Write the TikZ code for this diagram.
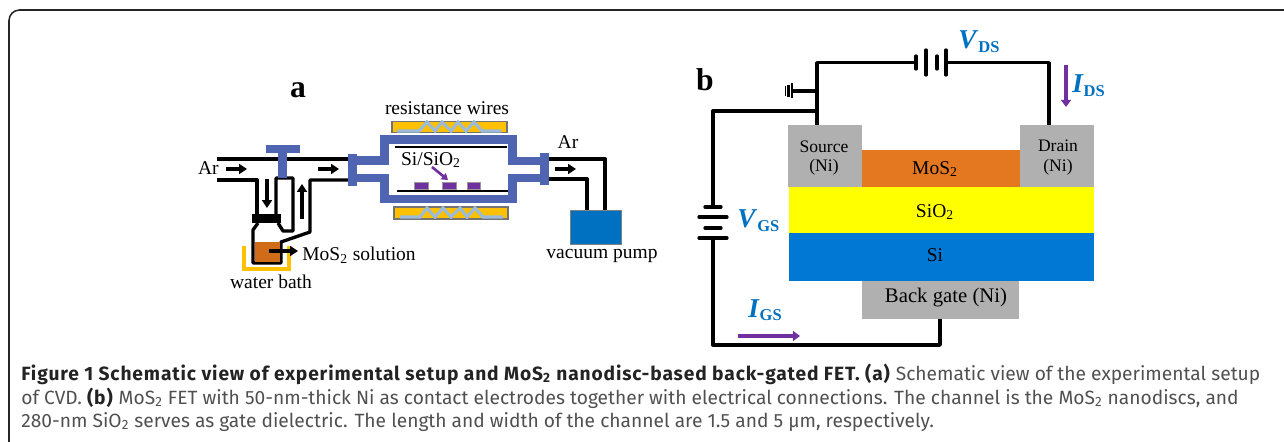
\documentclass[tikz,border=0pt]{standalone}
\usepackage{fontspec}
\usepackage{tikz}
\usetikzlibrary{arrows.meta}
\setmainfont{Liberation Serif}
\newfontfamily\capfont{Fira Sans}
\definecolor{tubeblue}{RGB}{79,101,178}
\definecolor{heatyellow}{RGB}{255,192,0}
\definecolor{wireblue}{RGB}{155,187,216}
\definecolor{nanopurple}{RGB}{112,48,160}
\definecolor{pumpblue}{RGB}{0,112,192}
\definecolor{labelblue}{RGB}{0,112,192}
\definecolor{layerblue}{RGB}{0,120,212}
\definecolor{oxideyellow}{RGB}{255,255,0}
\definecolor{mosorange}{RGB}{228,120,32}
\definecolor{bottleorange}{RGB}{208,108,24}
\definecolor{nigray}{RGB}{176,176,176}
\definecolor{capgray}{RGB}{80,80,80}
\definecolor{capdark}{RGB}{35,35,35}
\tikzset{
  pipe/.style={black, line width=1.9pt, line join=round},
  tube/.style={draw=tubeblue, line width=4.6pt, line join=miter},
  flowarrow/.style={black, line width=2pt, -{Triangle[length=4.5pt,width=5.6pt]}},
  currentarrow/.style={nanopurple, line width=2.1pt, -{Triangle[length=4pt,width=5.6pt]}},
  heater/.style={fill=heatyellow, draw=black!55, line width=0.6pt, inner sep=0pt},
  coil/.style={wireblue, line width=1.8pt},
  disc/.style={fill=nanopurple, draw=black!40, line width=0.3pt, inner sep=0pt, minimum height=0.14cm},
  layer/.style={draw=none, inner sep=0pt},
  lab/.style={inner sep=0pt, font=\fontsize{11.1}{12}\selectfont},
  smalllab/.style={inner sep=0pt, font=\fontsize{10}{11}\selectfont},
  panel/.style={inner sep=0pt, font=\fontsize{18}{19}\selectfont\bfseries},
  qty/.style={inner sep=0pt, anchor=base west, text=labelblue, font=\fontsize{15.5}{16}\selectfont\bfseries},
  capline/.style={inner sep=0pt, anchor=base west, text=capgray, font=\capfont\fontsize{10.92}{11}\selectfont},
}
\newcommand{\qtysub}[1]{\raisebox{-2.2pt}{\fontsize{9.4}{10}\selectfont #1}}
\newcommand{\capbold}[1]{\textcolor{capdark}{\addfontfeature{LetterSpace=4.5}\textbf{#1}}}
\begin{document}
\begin{tikzpicture}[x=0.02cm,y=-0.02cm]
\useasboundingbox (0,0) rectangle (1284,442);
% frame
\draw[black!85, line width=0.9pt, rounded corners=6pt] (9,442) -- (9,10) -- (1284,10);
% part a
\node[panel] (labela) at (298,90) {a};
\draw[pipe] (217,159) -- (348,159);
\draw[pipe] (217,180) -- (257,180) -- (257,214);
\draw[pipe] (276,214) -- (276,178) -- (293,178) -- (293,231) -- (283,231) -- (278,223);
\draw[pipe] (348,180) -- (310,180) -- (310,232) -- (281,242) -- (281,263) -- (253,263) -- (253,230) -- (258,223);
\fill[black] (252,214) rectangle (281,223);
\fill[bottleorange] (254.5,242) rectangle (279.5,262);
\draw[heatyellow, line width=1.8pt] (244,246) -- (244,269) -- (289,269) -- (289,246);
\fill[tubeblue] (266,145) rectangle (300,153);
\fill[tubeblue] (278,153) rectangle (287,178);
\draw[flowarrow] (226,169) -- (247,169);
\draw[flowarrow] (318,169) -- (339,169);
\draw[flowarrow] (267,179) -- (267,208);
\draw[flowarrow] (302,219) -- (302,184);
\draw[flowarrow] (269,251) -- (298,251);
\node[lab, anchor=east] (arleft) at (219,168) {Ar};
\node[lab, anchor=west] (mos) at (302,255) {MoS\textsubscript{2} solution};
\node[lab] (bath) at (271,282) {water bath};
% furnace
\node[heater, minimum width=2.3cm, minimum height=0.23cm] (topheat) at (449.5,127) {};
\node[heater, minimum width=2.28cm, minimum height=0.24cm] (botheat) at (451,213) {};
\draw[coil] (397,131) -- (419,131) -- (427,122) -- (435,131) -- (442,122) -- (451,131) -- (458,122) -- (466,131) -- (474,122) -- (482,131) -- (501,131);
\draw[coil] (400,217) -- (420,217) -- (427,208) -- (435,217) -- (443,208) -- (451,217) -- (460,208) -- (467,217) -- (475,208) -- (483,217) -- (503,217);
\fill[tubeblue] (348,154) rectangle (357,186);
\fill[tubeblue] (540,153) rectangle (549,185);
\draw[tube] (355,160.5) -- (384.5,160.5) -- (384.5,139.5) -- (512.5,139.5) -- (512.5,161) -- (542,161);
\draw[tube] (355,178) -- (384.5,178) -- (384.5,199) -- (512.5,199) -- (512.5,178) -- (542,178);
\draw[black, line width=1.7pt] (395,147) -- (507,147);
\draw[black, line width=1.7pt] (397,191) -- (508,191);
\node[disc, minimum width=0.28cm] (disca) at (421,186) {};
\node[disc, minimum width=0.28cm] (discb) at (449,186) {};
\node[disc, minimum width=0.26cm] (discc) at (473.5,186) {};
\draw[nanopurple, line width=1.5pt, -{Triangle[length=3.5pt,width=4.5pt]}] (432,167) -- (448,180);
\node[lab] (wires) at (447,108) {resistance wires};
\node[lab] (sisio) at (431,160) {Si/SiO\textsubscript{2}};
% outlet
\node[fill=pumpblue, draw=black!50, line width=0.4pt, minimum width=1.02cm, minimum height=0.68cm, inner sep=0pt, anchor=north west] (pump) at (570,210) {};
\coordinate (pumpa) at (587,210);
\coordinate (pumpb) at (605,210);
\draw[pipe] (549,159) -| (pumpb);
\draw[pipe] (549,179) -| (pumpa);
\draw[flowarrow] (555,169) -- (576,169);
\node[lab] (arright) at (568,142) {Ar};
\node[lab] (pumplabel) at (602,256) {vacuum pump};
% part b
\node[panel] (labelb) at (705,80) {b};
\node[layer, fill=oxideyellow, minimum width=6.1cm, minimum height=0.92cm, anchor=north west] (oxide) at (789,187) {};
\node[layer, fill=layerblue, minimum width=6.1cm, minimum height=0.96cm, anchor=north west] (silicon) at (789,233) {};
\node[layer, fill=mosorange, minimum width=3.16cm, minimum height=0.74cm, anchor=north west] (channel) at (862,150) {};
\node[layer, fill=nigray, minimum width=1.48cm, minimum height=1.24cm, anchor=north west] (source) at (788,125) {};
\node[layer, fill=nigray, minimum width=1.48cm, minimum height=1.24cm, anchor=north west] (drain) at (1020,125) {};
\node[layer, fill=nigray, minimum width=3.14cm, minimum height=0.76cm, anchor=north west] (gate) at (862,281) {};
\node[smalllab] (sourcea) at (824,147) {Source};
\node[smalllab] (sourceb) at (824,167) {(Ni)};
\node[smalllab] (draina) at (1058,146) {Drain};
\node[smalllab] (drainb) at (1058,167) {(Ni)};
\node[lab] (moslabel) at (935,169) {MoS\textsubscript{2}};
\node[lab] (oxidelabel) at (935,212) {SiO\textsubscript{2}};
\node[lab] (silabel) at (935,255) {Si};
\node[lab, font=\fontsize{11.8}{12}\selectfont] (gatelabel) at (946,298) {Back gate (Ni)};
% circuit
\coordinate (srcpin) at (817,125);
\coordinate (drnpin) at (1049,125);
\coordinate (gatepin) at (940,319);
\coordinate (vdsleft) at (916,62.7);
\coordinate (vdsright) at (946,62.7);
\coordinate (gndjoin) at (817,91);
\coordinate (gndend) at (792,91);
\coordinate (gsjoin) at (817,111);
\coordinate (vgstop) at (713,207);
\coordinate (vgsbot) at (713,238);
\draw[pipe] (srcpin) |- (vdsleft);
\draw[pipe] (vdsright) -| (drnpin);
\draw[pipe, line cap=round] (916,56) -- (916,69);
\draw[pipe, line cap=round] (926,50) -- (926,75);
\draw[pipe, line cap=round] (937,56) -- (937,69);
\draw[pipe, line cap=round] (946,50) -- (946,75);
\draw[pipe] (gndjoin) -- (gndend);
\draw[black, line width=1.4pt] (792,83) -- (792,98);
\draw[black, line width=1.2pt] (788.5,85) -- (788.5,97);
\draw[black, line width=1pt] (785.5,86) -- (785.5,96);
\draw[pipe] (gsjoin) -| (vgstop);
\draw[pipe, line cap=round] (705,207) -- (721,207);
\draw[pipe, line cap=round] (699,217) -- (727,217);
\draw[pipe, line cap=round] (705,228) -- (721,228);
\draw[pipe, line cap=round] (699,238) -- (727,238);
\draw[pipe] (vgsbot) |- (940,345) -- (gatepin);
\draw[currentarrow] (1066,65) -- (1066,107);
\draw[currentarrow] (738,336) -- (800,336);
\node[qty] (vds) at (958,49) {\textit{V}\qtysub{DS}};
\node[qty] (ids) at (1072,93) {\textit{I}\qtysub{DS}};
\node[qty] (vgs) at (737,228) {\textit{V}\qtysub{GS}};
\node[qty] (igs) at (748,317) {\textit{I}\qtysub{GS}};
% caption
\node[capline] (capa) at (21,380) {\capbold{Figure 1 Schematic view of experimental setup and MoS\textsubscript{2} nanodisc-based back-gated FET. (a)} Schematic view of the experimental setup};
\node[capline] (capb) at (21,404) {of CVD. \capbold{(b)} MoS\textsubscript{2} FET with 50-nm-thick Ni as contact electrodes together with electrical connections. The channel is the MoS\textsubscript{2} nanodiscs, and};
\node[capline] (capc) at (21,427) {280-nm SiO\textsubscript{2} serves as gate dielectric. The length and width of the channel are 1.5 and 5 µm, respectively.};
\end{tikzpicture}
\end{document}
